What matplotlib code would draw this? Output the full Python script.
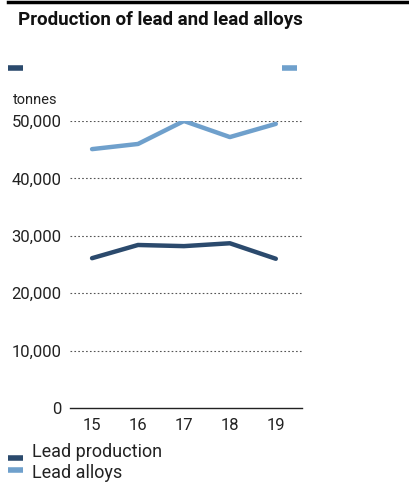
import matplotlib.pyplot as plt
from matplotlib.lines import Line2D

years = ['15', '16', '17', '18', '19']
lead_production = [26100, 28400, 28200, 28700, 26000]
lead_alloys = [45100, 46000, 50000, 47200, 49500]
yticks = [0, 10000, 20000, 30000, 40000, 50000]
ytick_labels = ['0', '10,000', '20,000', '30,000', '40,000', '50,000']
series_names = ['Lead production', 'Lead alloys']

dark = '#2b4a6d'
light = '#6fa0cc'

plt.rcParams['font.family'] = ['Roboto', 'DejaVu Sans']

W, H = 409, 483
fig = plt.figure(figsize=(W / 100, H / 100), dpi=100)
ax = fig.add_axes([70 / W, 1 - 408 / H, 232 / W, 287 / H])

x = [int(y) for y in years]
ax.plot(x, lead_production, color=dark, lw=3.2, solid_capstyle='round', zorder=3)
ax.plot(x, lead_alloys, color=light, lw=3.2, solid_capstyle='round', zorder=3)

ax.set_xlim(14.52, 19.57)
ax.set_ylim(0, 50000)
ax.set_xticks(x)
ax.set_xticklabels(years, fontsize=12, color='#222222')
ax.set_yticks(yticks)
ax.set_yticklabels(ytick_labels, fontsize=12, color='#222222')
ax.tick_params(length=0, pad=6)
ax.tick_params(axis='x', pad=7)

for v in yticks[1:]:
    ax.axhline(v, color='#555555', lw=0.8, ls=(0, (1.5, 2)), zorder=1)

for s in ['top', 'right', 'left']:
    ax.spines[s].set_visible(False)
ax.spines['bottom'].set_color('#222222')
ax.spines['bottom'].set_linewidth(1)

# top black bar and title
fig.add_artist(Line2D([8 / W, 1], [1 - 1.5 / H, 1 - 1.5 / H], color='black', lw=2.5))
fig.text(18 / W, 1 - 20 / H, 'Production of lead and lead alloys', fontsize=13.5,
         fontweight='bold', va='center', ha='left', color='#111111')

# key marks above chart
fig.add_artist(Line2D([8 / W, 23 / W], [1 - 68 / H] * 2, color=dark, lw=4, solid_capstyle='butt'))
fig.add_artist(Line2D([282 / W, 297 / W], [1 - 68 / H] * 2, color=light, lw=4, solid_capstyle='butt'))

fig.text(13 / W, 1 - 100 / H, 'tonnes', fontsize=10.5, va='center', ha='left', color='#222222')

# legend at bottom
for name, col, ty, my in [(series_names[0], dark, 452, 458), (series_names[1], light, 473, 470)]:
    fig.add_artist(Line2D([8 / W, 23 / W], [1 - my / H] * 2, color=col, lw=4, solid_capstyle='butt'))
    fig.text(32 / W, 1 - ty / H, name, fontsize=13, va='center', ha='left', color='#222222')

fig.savefig('out.png', dpi=100)
